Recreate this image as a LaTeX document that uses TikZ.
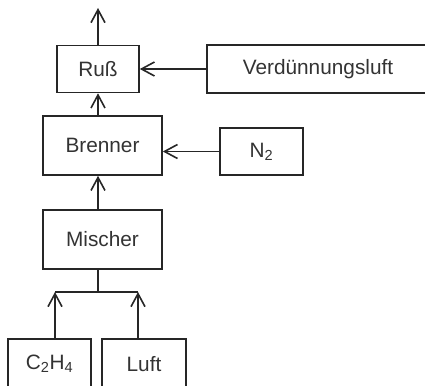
\documentclass[tikz,border=0pt]{standalone}
\usepackage{fontspec}
\setmainfont{Liberation Sans}
\usetikzlibrary{arrows.meta}
\begin{document}
\begin{tikzpicture}[x=1pt,y=-1pt,
  box/.style={draw=black!85, line width=1.6pt, rectangle, inner sep=0pt, font=\fontsize{20.8}{24}\selectfont, text=black!80},
  flow/.style={draw=black!85, line width=1.6pt, -{Straight Barb[length=13pt,width=14pt,line width=1.6pt]}},
  thick flow/.style={flow, line width=2.5pt},
  plain/.style={draw=black!85, line width=1.6pt}]
\useasboundingbox (0,0) rectangle (425,385);
\clip (0,0) rectangle (425,385);
\node[box, minimum width=82pt, minimum height=47pt] (russ) at (98,69) {Ruß};
\node[box, minimum width=222pt, minimum height=48pt] (verd) at (318,69) {Verdünnungsluft};
\node[box, minimum width=119pt, minimum height=59pt] (bren) at (102.5,145.5) {Brenner};
\node[box, minimum width=83pt, minimum height=47pt] (n2) at (261.5,151.5) {N\textsubscript{2}};
\node[box, minimum width=119pt, minimum height=59pt] (misch) at (102.5,239.5) {Mischer};
\node[box, minimum width=83pt, minimum height=50pt] (c2h4) at (49.5,364) {C\textsubscript{2}H\textsubscript{4}};
\node[box, minimum width=84pt, minimum height=50pt] (luft) at (144,364) {Luft};
\coordinate (top) at (98,8);
\coordinate (jm) at (98,292);
\coordinate (jl) at (55,292);
\coordinate (jr) at (138,292);
\draw[flow] (russ.north) -- (top);
\draw[thick flow] (verd.west) -- (russ.east);
\draw[thick flow] (bren.north -| russ.south) -- (russ.south);
\draw[flow] (n2.west) -- (bren.east |- n2.west);
\draw[thick flow] (misch.north -| russ.south) -- (bren.south -| russ.south);
\draw[plain] (misch.south -| jm) -- (jm);
\draw[plain, line width=2pt] (jl) -- (jr);
\draw[thick flow] (c2h4.north -| jl) -- (jl);
\draw[flow] (luft.north -| jr) -- (jr);
\end{tikzpicture}
\end{document}
